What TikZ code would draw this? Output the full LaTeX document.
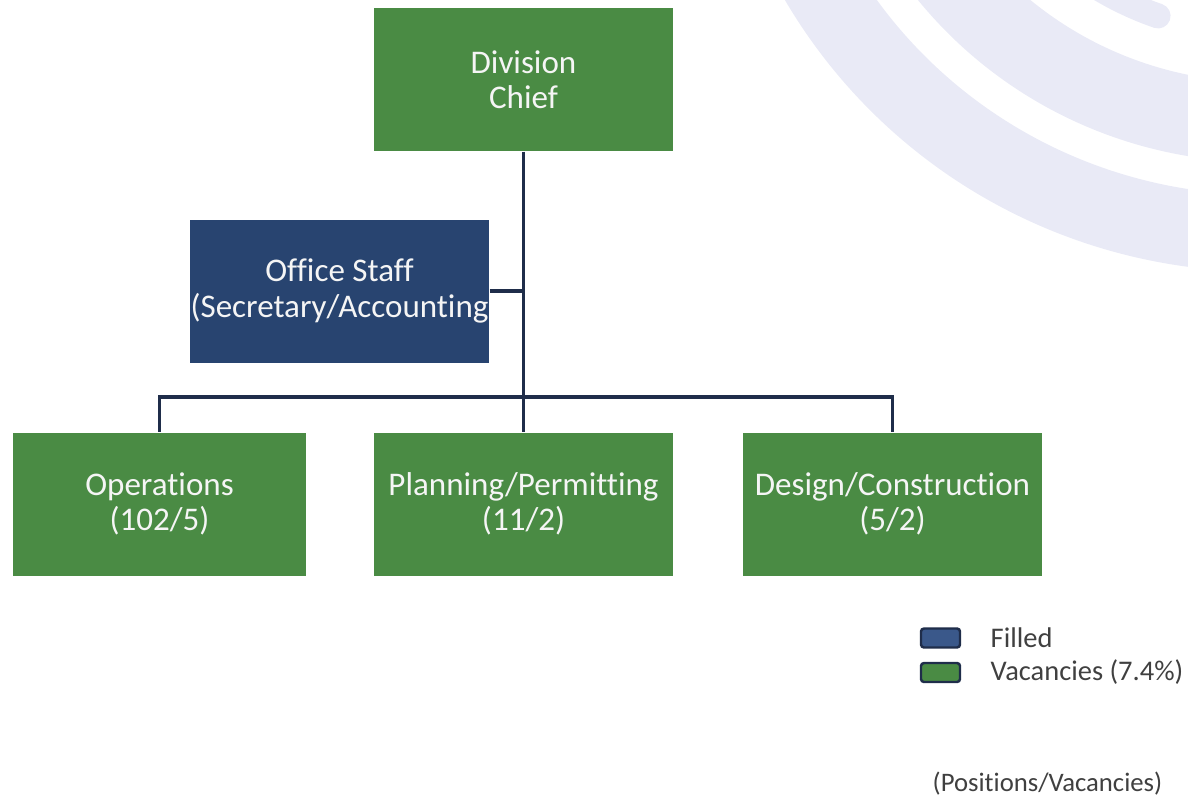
\documentclass[tikz,border=0pt]{standalone}
\usepackage{fontspec}
\setmainfont{Carlito}[Ligatures=NoCommon]
\usepackage{tikz}

\definecolor{unitgreen}{RGB}{74,139,68}
\definecolor{unitnavy}{RGB}{40,68,112}
\definecolor{keynavy}{RGB}{58,88,138}
\definecolor{linknavy}{RGB}{31,45,74}
\definecolor{arcback}{RGB}{233,234,246}
\definecolor{keytext}{RGB}{64,64,64}

\begin{document}
\begin{tikzpicture}[x=0.1mm,y=-0.1mm]
  \tikzset{unit/.style = {draw=none, fill=unitgreen, text=white!92!gray, align=center,
      font=\fontsize{9.4}{10}\selectfont, minimum width=29.9mm, minimum height=14.3mm, inner sep=0pt}}
  \tikzset{staff/.style = {unit, fill=unitnavy}}
  \tikzset{link/.style = {draw=linknavy, line width=1.1pt}}
  \tikzset{band/.style = {draw=arcback}}
  \tikzset{keybox/.style = {draw=linknavy, line width=0.7pt, rounded corners=0.3mm,
      minimum width=3.9mm, minimum height=1.9mm, inner sep=0pt}}
  \tikzset{keylabel/.style = {anchor=west, text=keytext, font=\fontsize{8.1}{10}\selectfont, inner sep=0pt}}

\useasboundingbox (0,0) rectangle (1188,798);

% background arcs
\begin{scope}
  \clip (0,0) rectangle (1188,798);
  \draw[band, line width=7.7mm] ([shift={(60:513)}]1260,-280) arc[start angle=60, end angle=180, radius=513];
  \draw[band, line width=8mm] ([shift={(60:402)}]1260,-280) arc[start angle=60, end angle=180, radius=402];
  \draw[band, line width=2.5mm, line cap=round] ([shift={(130:313)}]1260,-280) arc[start angle=130, end angle=109, radius=313];
\end{scope}

\node[unit] (chief) at (523.5,79.5) {Division\\Chief};
\node[staff] (office) at (339.5,291) {Office Staff\\(Secretary/Accounting};
\node[unit, minimum width=29.3mm] (ops) at (159.5,504) {Operations\\(102/5)};
\node[unit] (plan) at (523.5,504) {Planning/Permitting\\(11/2)};
\node[unit] (design) at (892.5,504) {Design/Construction\\(5/2)};

\coordinate (split) at (523.5,397);

  \draw[link] (chief) -- (plan);
  \draw[link] (office.east) -- (office.east -| chief.south);
  \draw[link] (ops.north) |- (split) -| (design.north);

% legend
\node[keybox, fill=keynavy] (kfilled) at (940.5,638) {};
\node[keybox, fill=unitgreen] (kvacant) at (940.5,672.5) {};
\node[keylabel] (lfilled) at (990,638) {Filled};
\node[keylabel] (lvacant) at (990,672.5) {Vacancies (7.4\%)};
\node[keylabel, anchor=east, font=\fontsize{7.6}{10}\selectfont] (lnote) at (1163,784) {(Positions/Vacancies)};

\end{tikzpicture}
\end{document}
